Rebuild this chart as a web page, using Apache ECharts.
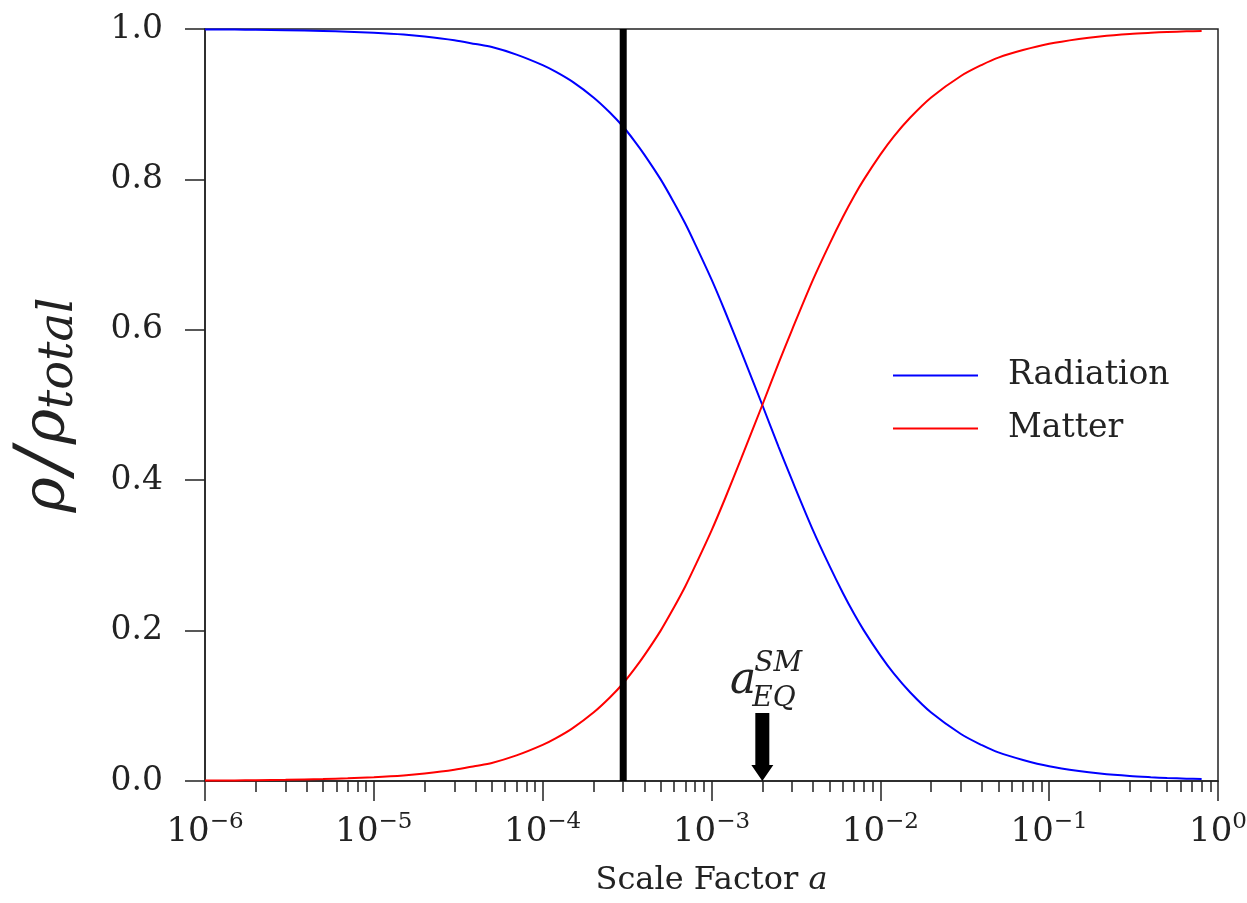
<!DOCTYPE html>
<html>
<head>
<meta charset="utf-8">
<script src="https://cdn.jsdelivr.net/npm/echarts@6/dist/echarts.min.js"></script>
<style>
  html, body { margin: 0; padding: 0; background: #fff; }
  #chart { width: 1247px; height: 903px; }
</style>
</head>
<body>
<div id="chart"></div>
<script>
// scale factor samples, fractions
const scaleFactor = [1e-6, 1.5e-6, 2e-6, 3e-6, 5e-6, 7e-6, 1e-5, 1.5e-5, 2e-5, 3e-5, 4e-5, 5e-5, 7e-5,
  1e-4, 1.2e-4, 1.5e-4, 2e-4, 2.5e-4, 3e-4, 3.5e-4, 4e-4, 5e-4, 6e-4, 7e-4, 8e-4,
  1e-3, 1.2e-3, 1.5e-3, 2e-3, 2.5e-3, 3e-3, 4e-3, 5e-3, 6e-3, 7e-3, 8e-3,
  1e-2, 1.2e-2, 1.5e-2, 2e-2, 3e-2, 4e-2, 5e-2, 7e-2, 0.1, 0.15, 0.2, 0.3, 0.4, 0.5, 0.65, 0.8];
const radiation = [0.9995, 0.99925, 0.999, 0.9985, 0.9975, 0.9965, 0.995, 0.9926, 0.990, 0.985, 0.980, 0.976, 0.966,
  0.952, 0.943, 0.930, 0.909, 0.889, 0.870, 0.851, 0.833, 0.800, 0.769, 0.741, 0.714,
  0.667, 0.625, 0.571, 0.500, 0.444, 0.400, 0.333, 0.286, 0.250, 0.222, 0.200,
  0.167, 0.143, 0.118, 0.091, 0.0625, 0.0476, 0.038, 0.028, 0.0196, 0.0132, 0.0099, 0.0066, 0.005, 0.004, 0.0031, 0.0025];
const matter = [0.0005, 0.00075, 0.001, 0.0015, 0.0025, 0.0035, 0.005, 0.0074, 0.010, 0.015, 0.020, 0.024, 0.034,
  0.048, 0.057, 0.070, 0.091, 0.111, 0.130, 0.149, 0.167, 0.200, 0.231, 0.259, 0.286,
  0.333, 0.375, 0.429, 0.500, 0.556, 0.600, 0.667, 0.714, 0.750, 0.778, 0.800,
  0.833, 0.857, 0.882, 0.909, 0.9375, 0.9524, 0.962, 0.972, 0.9804, 0.9868, 0.9901, 0.9934, 0.995, 0.996, 0.9969, 0.9975];

const xExponents = ['−6', '−5', '−4', '−3', '−2', '−1', '0'];
const yTicks = ['0.0', '0.2', '0.4', '0.6', '0.8', '1.0'];
const verticalLineAt = 3e-4;
const equalityAt = 2e-3;

const minorTicks = [];
for (let e = -6; e < 0; e++) {
  for (let m = 2; m <= 9; m++) minorTicks.push(m * Math.pow(10, e));
}

const serif = '"DejaVu Serif", "Liberation Serif", serif';
const ink = '#222';

const chart = echarts.init(document.getElementById('chart'));

chart.setOption({
  backgroundColor: '#fff',
  animation: false,
  grid: {
    left: 205, right: 29, top: 29, bottom: 122,
    outerBoundsMode: 'none',
    containLabel: false,
    show: true, borderColor: ink, borderWidth: 1.5, backgroundColor: 'transparent'
  },
  legend: {
    orient: 'vertical',
    left: 888,
    top: 354,
    icon: 'rect',
    itemWidth: 85,
    itemHeight: 2,
    itemGap: 20,
    textStyle: { fontFamily: serif, fontSize: 33, color: ink, padding: [0, 0, 0, 25] },
    data: ['Radiation', 'Matter']
  },
  xAxis: [{
    type: 'log',
    logBase: 10,
    min: 1e-6,
    max: 1,
    name: '{n|Scale Factor }{i|a}',
    nameLocation: 'middle',
    nameGap: 84,
    nameTextStyle: {
      rich: {
        n: { fontFamily: serif, fontSize: 32, color: ink },
        i: { fontFamily: serif, fontSize: 32, fontStyle: 'italic', color: ink }
      }
    },
    splitLine: { show: false },
    axisLine: { lineStyle: { color: ink, width: 1.5 } },
    axisTick: { length: 20, lineStyle: { color: ink, width: 1.5 } },
    axisLabel: {
      margin: 30,
      showMaxLabel: true,
      formatter: function (v) {
        const i = Math.round(Math.log10(v)) + 6;
        return '{b|10}{s|' + xExponents[i] + '}';
      },
      rich: {
        b: { fontFamily: serif, fontSize: 34, color: ink },
        s: { fontFamily: serif, fontSize: 23, color: ink, padding: [0, 0, 20, 0] }
      }
    }
  }, {
    type: 'log',
    logBase: 10,
    min: 1e-6,
    max: 1,
    position: 'bottom',
    splitLine: { show: false },
    axisLine: { show: false },
    axisLabel: { show: false },
    axisTick: { length: 11, customValues: minorTicks, lineStyle: { color: ink, width: 1.5 } }
  }],
  yAxis: {
    type: 'value',
    min: 0,
    max: 1,
    interval: 0.2,
    name: '{r|ρ}{d|/}{r|ρ}{t|total}',
    nameLocation: 'middle',
    nameRotate: 90,
    nameGap: 120,
    nameTextStyle: {
      rich: {
        r: { fontFamily: serif, fontSize: 60, fontStyle: 'italic', color: ink },
        d: { fontFamily: serif, fontSize: 74, fontStyle: 'italic', color: ink, padding: [0, 4, 0, 4] },
        t: { fontFamily: serif, fontSize: 48, fontStyle: 'italic', color: ink, padding: [24, 0, 0, 0] }
      }
    },
    splitLine: { show: false },
    axisLine: { lineStyle: { color: ink, width: 1.5 } },
    axisTick: { length: 20, lineStyle: { color: ink, width: 1.5 } },
    axisLabel: {
      margin: 42,
      fontFamily: serif,
      fontSize: 33,
      color: ink,
      formatter: function (v) { return yTicks[Math.round(v * 5)]; }
    }
  },
  series: [{
    name: 'Radiation',
    type: 'line',
    symbol: 'none',
    smooth: 0.3,
    color: '#0000ff',
    lineStyle: { width: 2, color: '#0000ff' },
    data: scaleFactor.map((a, i) => [a, radiation[i]]),
    z: 3
  }, {
    name: 'Matter',
    type: 'line',
    symbol: 'none',
    smooth: 0.3,
    color: '#ff0000',
    lineStyle: { width: 2, color: '#ff0000' },
    data: scaleFactor.map((a, i) => [a, matter[i]]),
    markPoint: {
      silent: true,
      symbol: 'path://M4,0 L18,0 L18,52 L22,52 L11,68 L0,52 L4,52 Z',
      symbolSize: [22, 68],
      symbolOffset: [0, '-50%'],
      itemStyle: { color: '#000' },
      label: { show: false },
      data: [{ coord: [equalityAt, 0] }]
    },
    z: 3
  }, {
    name: 'marker',
    type: 'line',
    symbol: 'none',
    silent: true,
    lineStyle: { width: 7, color: '#000' },
    data: [[verticalLineAt, 0], [verticalLineAt, 1]],
    z: 4
  }]
});

// a_EQ^SM annotation above the arrow
const p = chart.convertToPixel({ xAxisIndex: 0, yAxisIndex: 0 }, [equalityAt, 0.135]);
chart.setOption({
  graphic: [
    { type: 'text', x: p[0] - 6, y: p[1] + 2, style: { text: 'a', font: 'italic 44px ' + serif, fill: ink, align: 'right', verticalAlign: 'middle' } },
    { type: 'text', x: p[0] - 8, y: p[1] - 16, style: { text: 'SM', font: 'italic 28px ' + serif, fill: ink, align: 'left', verticalAlign: 'middle' } },
    { type: 'text', x: p[0] - 10, y: p[1] + 19, style: { text: 'EQ', font: 'italic 28px ' + serif, fill: ink, align: 'left', verticalAlign: 'middle' } }
  ]
});
</script>
</body>
</html>
